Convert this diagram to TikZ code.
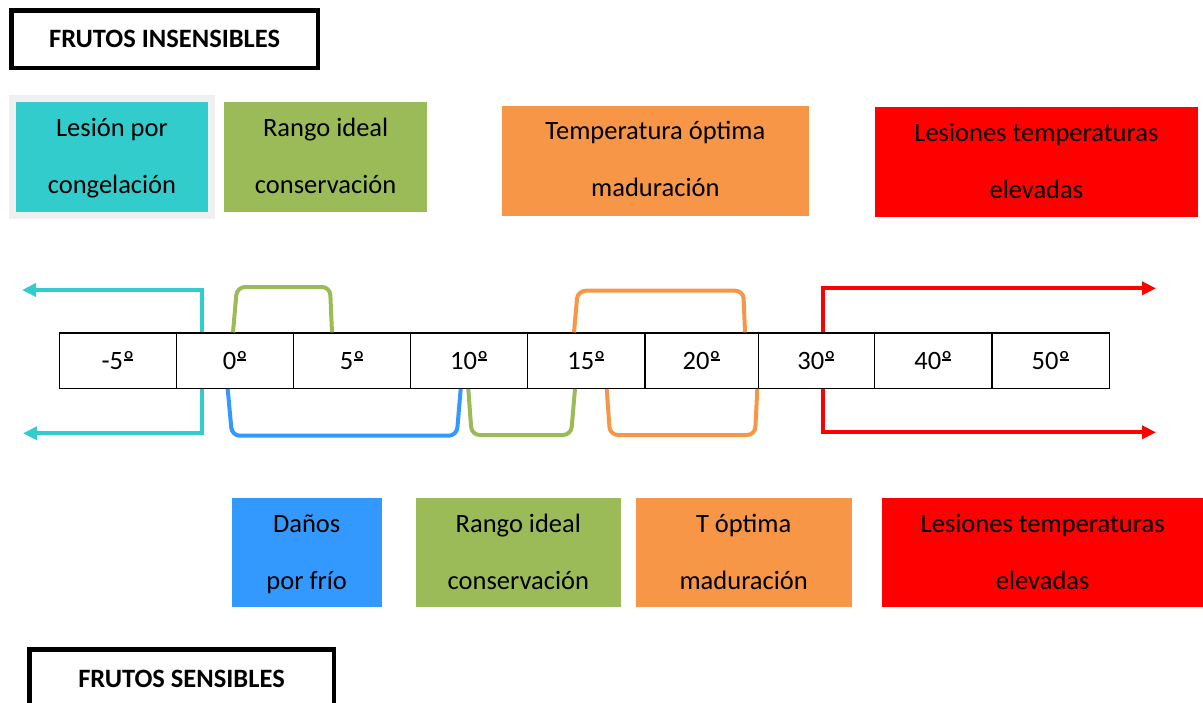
\documentclass[tikz,border=0pt]{standalone}
\usepackage{fontspec}
\setmainfont{Carlito}
\usetikzlibrary{arrows.meta,calc}
\definecolor{cyanF}{HTML}{33CCCC}
\definecolor{greenF}{HTML}{9BBB59}
\definecolor{orangeF}{HTML}{F79646}
\definecolor{redF}{HTML}{FF0000}
\definecolor{blueF}{HTML}{3399FF}
\definecolor{grayF}{HTML}{F0F0F0}
\newcommand\twolines[2]{\rule{0pt}{11.2pt}#1\\#2\rule[-3.5pt]{0pt}{3.5pt}}
\newsavebox\ordbox
\newcommand\ordm{\sbox\ordbox{º}\rlap{\hspace{0.1\wd\ordbox}\rule[0.34em]{0.8\wd\ordbox}{0.055em}}\usebox\ordbox}
\begin{document}
\begin{tikzpicture}[x=0.5pt,y=-0.5pt,
  lbl/.style={font=\fontsize{13.25pt}{28.5pt}\selectfont, align=center, inner sep=0pt},
  colbox/.style={lbl, rectangle, draw=none, minimum height=55pt},
  cell/.style={draw=black, line width=0.6pt, minimum height=27.65pt, inner sep=0pt,
    font=\fontsize{13.25pt}{16pt}\selectfont},
  titlebox/.style={draw=black, line width=2.25pt, inner sep=0pt,
    font=\bfseries\fontsize{13.25pt}{16pt}\selectfont},
  br/.style={line width=2pt, rounded corners=4pt},
  arr/.style={line width=2pt, -{Triangle[length=7pt,width=6.5pt]}},
]
\clip (0,0) rectangle (1203,702);

% titles
\node[titlebox, minimum width=153.1pt, minimum height=28.75pt] (ti) at (164.65,39) {FRUTOS INSENSIBLES};
\node[titlebox, minimum width=152.25pt, minimum height=29.75pt] (ts) at (181.5,679) {FRUTOS SENSIBLES};

% top boxes
\fill[grayF] (8.7,95) rectangle (215,219);
\node[colbox, fill=cyanF, minimum width=96pt] (t1) at (112,157) {\twolines{Lesión por}{congelación}};
\node[colbox, fill=greenF, minimum width=101.35pt] (t2) at (325.65,157) {\twolines{Rango ideal}{conservación}};
\node[colbox, fill=orangeF, minimum width=153.65pt] (t3) at (655.35,160.7) {\twolines{Temperatura óptima}{maduración}};
\node[colbox, fill=redF, minimum width=161.35pt] (t4) at (1036.35,162.3) {\twolines{Lesiones temperaturas}{elevadas}};

% bottom boxes
\node[colbox, fill=blueF, minimum width=75pt, minimum height=54.5pt] (b1) at (306.7,552.8) {\twolines{Daños}{por frío}};
\node[colbox, fill=greenF, minimum width=102.35pt, minimum height=54.5pt] (b2) at (518.35,552.8) {\twolines{Rango ideal}{conservación}};
\node[colbox, fill=orangeF, minimum width=108pt, minimum height=54.5pt] (b3) at (743.7,552.8) {\twolines{T óptima}{maduración}};
\node[colbox, fill=redF, minimum width=160.35pt, minimum height=54.5pt] (b4) at (1042.65,552.8) {\twolines{Lesiones temperaturas}{elevadas}};

% scale
\foreach \a/\b/\t/\n in {59.3/176.7/-5/c1, 176.7/293.7/0/c2, 293.7/410.7/5/c3,
  410.7/527.7/10/c4, 527.7/645/15/c5, 645/758.3/20/c6, 758.3/874.7/30/c7,
  874.7/992/40/c8, 992/1109.3/50/c9}
  \node[cell, minimum width={(\b-\a)*0.5pt}] (\n) at ({(\a+\b)/2},360.65) {\t\ordm};

% brackets above
\draw[arr, cyanF] (c2.north -| 202.3,0) -- (202.3,290) -- (22,290);
\draw[br, greenF] (c2.north -| 233,0) -- (237,287) -- (330,287) -- (c3.north -| 332,0);
\draw[br, orangeF] (c5.north -| 574,0) -- (577.7,290.7) -- (743.3,290.7) -- (c6.north -| 745,0);
\draw[arr, redF] (c7.north -| 823.3,0) -- (823.3,288.3) -- (1156,288.3);

% brackets below
\draw[arr, cyanF] (c2.south -| 202.3,0) -- (202.3,433.3) -- (23,433.3);
\draw[br, blueF] (c2.south -| 227.7,0) -- (232,435.7) -- (456.7,435.7) -- (c4.south -| 460.7,0);
\draw[br, greenF] (c4.south -| 468.3,0) -- (471.7,435) -- (571,435) -- (c5.south -| 575,0);
\draw[br, orangeF] (c5.south -| 606.7,0) -- (610,435) -- (755,435) -- (c6.south -| 757.3,0);
\draw[arr, redF] (c7.south -| 823.3,0) -- (823.3,432.3) -- (1156,432.3);
\end{tikzpicture}
\end{document}
